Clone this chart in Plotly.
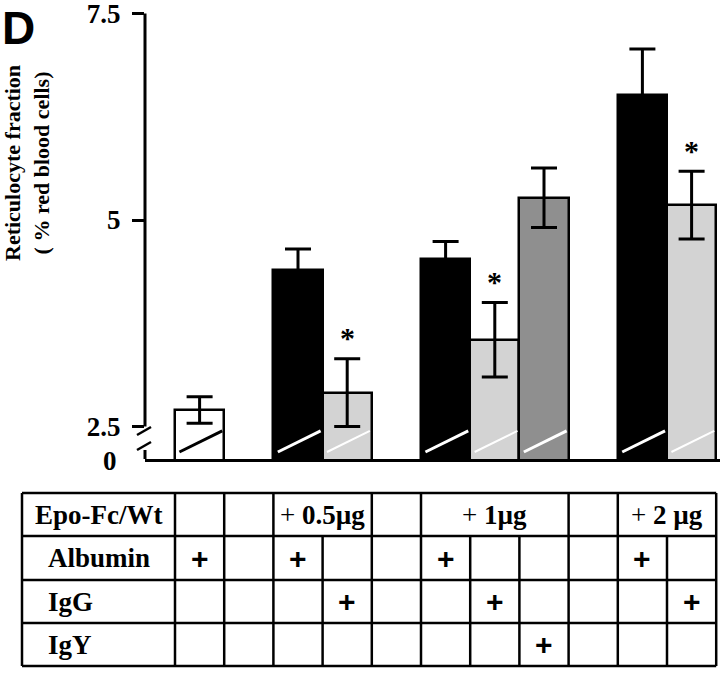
import plotly.graph_objects as go

# ---------------- data ----------------
bar_cols = [0, 2, 3, 5, 6, 7, 9, 10]
epo_dose = ["none", "0.5", "0.5", "1", "1", "1", "2", "2"]
treatment = ["Albumin", "Albumin", "IgG", "Albumin", "IgG", "IgY", "Albumin", "IgG"]
values = [2.70, 4.40, 2.91, 4.53, 3.55, 5.27, 6.51, 5.18]
errors = [0.16, 0.25, 0.41, 0.21, 0.45, 0.36, 0.56, 0.41]
significant = [False, False, True, False, True, False, False, True]

y_tick_vals = [2.5, 5, 7.5]
y_tick_text = ["2.5", "5", "7.5"]

n_cols = 11
epo_cells = [("", 0, 0), ("", 1, 1), ("+ <b>0.5µg</b>", 2, 3), ("", 4, 4),
             ("+ <b>1µg</b>", 5, 7), ("", 8, 8), ("+ <b>2 µg</b>", 9, 10)]
albumin_row = [1, 0, 1, 0, 0, 1, 0, 0, 0, 1, 0]
igg_row = [0, 0, 0, 1, 0, 0, 1, 0, 0, 0, 1]
igy_row = [0, 0, 0, 0, 0, 0, 0, 1, 0, 0, 0]
row_labels = ["Epo-Fc/Wt", "Albumin", "IgG", "IgY"]

# ---------------- geometry ----------------
W, H = 720, 675
ML, MR, MT, MB = 145, 0, 0, 216
PW, PH = W - ML - MR, H - MT - MB
STEP = 49.2          # px per column
COL0 = 175           # px of left edge of first column
PPU = 82.6           # px per y unit
XR0 = (ML - COL0) / STEP - 0.5
XR1 = XR0 + PW / STEP
Y0 = 5 - (PH - 220) / PPU
Y1 = Y0 + PH / PPU


def px2paperx(px):
    return (px - ML) / PW


def py2papery(py):
    return (H - MB - py) / PH


def py2y(py):
    return Y0 + (PH - py) / PPU


def col_edge_px(k):
    return COL0 + STEP * k


def bar_color(dose, tr):
    if dose == "none":
        return "white"
    return {"Albumin": "black", "IgG": "#d3d3d3", "IgY": "#8f8f8f"}[tr]


colors = [bar_color(d, t) for d, t in zip(epo_dose, treatment)]

SERIF = "Liberation Serif"

fig = go.Figure()
fig.add_trace(go.Bar(
    x=bar_cols, y=values, width=1.0,
    marker=dict(color=colors, line=dict(color="black", width=2.5)),
    error_y=dict(type="data", array=errors, color="black", thickness=3, width=13),
    hoverinfo="skip",
))

shapes = []
annotations = []

# slashes inside bars
for c, d, col in zip(bar_cols, epo_dose, colors):
    lc = "black" if col == "white" else "white"
    lw = 2 if col.startswith("#d") else 3
    shapes.append(dict(type="line", xref="x", yref="y",
                       x0=c - 0.41, y0=Y0 + 0.085, x1=c + 0.46, y1=Y0 + 0.34,
                       line=dict(color=lc, width=lw), layer="above"))

# significance stars
for c, v, e, s in zip(bar_cols, values, errors, significant):
    if s:
        annotations.append(dict(x=c, y=v + e, xref="x", yref="y", text="<b>*</b>",
                                showarrow=False, yanchor="middle", yshift=21,
                                font=dict(family=SERIF, size=30, color="black")))

# broken y axis line
shapes.append(dict(type="line", xref="paper", yref="y", x0=0, x1=0, y0=2.5, y1=7.5,
                   line=dict(color="black", width=3)))
shapes.append(dict(type="line", xref="paper", yref="y", x0=0, x1=0,
                   y0=py2y(450), y1=Y0, line=dict(color="black", width=3)))
for a, b in [(435, 427), (450, 442)]:
    shapes.append(dict(type="line", xref="paper", yref="y",
                       x0=px2paperx(137), x1=px2paperx(151), y0=py2y(a), y1=py2y(b),
                       line=dict(color="black", width=2.5)))

annotations.append(dict(x=px2paperx(119), y=Y0, xref="paper", yref="y", text="<b>0</b>",
                        showarrow=False, xanchor="right", yanchor="middle", yshift=-2,
                        font=dict(family=SERIF, size=27, color="black")))

# y title
annotations.append(dict(x=px2paperx(27), y=py2papery(163), xref="paper", yref="paper",
                        text="<b>Reticulocyte fraction<br>( % red blood cells)</b>",
                        textangle=-90, showarrow=False, xanchor="center", yanchor="middle",
                        font=dict(family=SERIF, size=22, color="black")))

# panel letter
annotations.append(dict(x=px2paperx(0), y=1.0, xref="paper", yref="paper", text="<b>D</b>",
                        showarrow=False, xanchor="left", yanchor="top", yshift=0,
                        font=dict(family="Liberation Sans", size=46, color="black")))

# ---------------- table ----------------
row_px = [493, 536, 580, 623, 666]
TL = 22
TR = col_edge_px(n_cols)
TW = 2.5
for r in row_px:
    shapes.append(dict(type="line", xref="paper", yref="paper",
                       x0=px2paperx(TL), x1=px2paperx(TR), y0=py2papery(r), y1=py2papery(r),
                       line=dict(color="black", width=TW)))
for xpx in [TL, COL0, TR]:
    shapes.append(dict(type="line", xref="paper", yref="paper",
                       x0=px2paperx(xpx), x1=px2paperx(xpx),
                       y0=py2papery(row_px[0]), y1=py2papery(row_px[-1]),
                       line=dict(color="black", width=TW)))
for _, a, b in epo_cells[:-1]:
    xpx = col_edge_px(b + 1)
    shapes.append(dict(type="line", xref="paper", yref="paper",
                       x0=px2paperx(xpx), x1=px2paperx(xpx),
                       y0=py2papery(row_px[0]), y1=py2papery(row_px[1]),
                       line=dict(color="black", width=TW)))
for k in range(1, n_cols):
    xpx = col_edge_px(k)
    shapes.append(dict(type="line", xref="paper", yref="paper",
                       x0=px2paperx(xpx), x1=px2paperx(xpx),
                       y0=py2papery(row_px[1]), y1=py2papery(row_px[-1]),
                       line=dict(color="black", width=TW)))

TFONT = dict(family=SERIF, size=27, color="black")
for i, lab in enumerate(row_labels):
    yc = py2papery((row_px[i] + row_px[i + 1]) / 2)
    if i < 2:
        annotations.append(dict(x=px2paperx((TL + COL0) / 2), y=yc, xref="paper", yref="paper",
                                text="<b>%s</b>" % lab, showarrow=False,
                                xanchor="center", yanchor="middle", font=TFONT))
    else:
        annotations.append(dict(x=px2paperx(46), y=yc, xref="paper", yref="paper",
                                text="<b>%s</b>" % lab, showarrow=False,
                                xanchor="left", yanchor="middle", font=TFONT))
yc = py2papery((row_px[0] + row_px[1]) / 2)
for txt, a, b in epo_cells:
    if txt:
        xc = (col_edge_px(a) + col_edge_px(b + 1)) / 2
        annotations.append(dict(x=px2paperx(xc), y=yc, xref="paper", yref="paper",
                                text=txt, showarrow=False, xanchor="center", yanchor="middle",
                                font=TFONT))
for ri, row in enumerate([albumin_row, igg_row, igy_row], start=1):
    yc = py2papery((row_px[ri] + row_px[ri + 1]) / 2)
    for k, flag in enumerate(row):
        if flag:
            xc = (col_edge_px(k) + col_edge_px(k + 1)) / 2
            annotations.append(dict(x=px2paperx(xc), y=yc, xref="paper", yref="paper",
                                    text="<b>+</b>", showarrow=False, xanchor="center",
                                    yanchor="middle",
                                    font=dict(family="Liberation Sans", size=30, color="black")))

fig.update_layout(
    width=W, height=H,
    margin=dict(l=ML, r=MR, t=MT, b=MB),
    plot_bgcolor="white", paper_bgcolor="white",
    showlegend=False,
    bargap=0,
    xaxis=dict(range=[XR0, XR1], showgrid=False, zeroline=False, showticklabels=False,
               ticks="", showline=True, linecolor="black", linewidth=3, fixedrange=True),
    yaxis=dict(range=[Y0, Y1], showgrid=False, zeroline=False, showline=False,
               tickvals=y_tick_vals, ticktext=["<b>%s</b>" % t for t in y_tick_text],
               ticks="outside", ticklen=12, tickwidth=3, tickcolor="black",
               ticklabelstandoff=6, ticklabeloverflow="allow",
               tickfont=dict(family=SERIF, size=27, color="black"), fixedrange=True),
    shapes=shapes,
    annotations=annotations,
)

fig.write_html("out.html", config={"displayModeBar": False},
               post_script="document.body.style.margin='0';document.body.style.overflow='hidden';")
